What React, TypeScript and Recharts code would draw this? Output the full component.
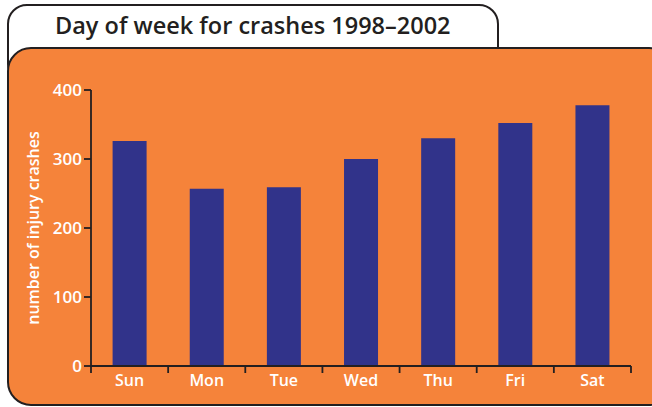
import { BarChart, Bar, XAxis, YAxis, Label } from "recharts";

const DAYS = ["Sun", "Mon", "Tue", "Wed", "Thu", "Fri", "Sat"];
const CRASHES = [326, 257, 259, 300, 330, 352, 378];
const Y_TICKS = [0, 100, 200, 300, 400];

const ORANGE = "#f5833a";
const NAVY = "#31338a";
const INK = "#231f20";
const FONT = '"Open Sans", sans-serif';

const data = DAYS.map((day, i) => ({ day, crashes: CRASHES[i] }));

// day label centred in its band, with tick marks on the band edges
function DayTick(props: any) {
  const { x, y, width, visibleTicksCount, index, payload } = props;
  const half = width / visibleTicksCount / 2;
  const last = index === visibleTicksCount - 1;
  return (
    <g>
      <line x1={x - half} x2={x - half} y1={y} y2={y + 7} stroke={INK} strokeWidth={1.8} />
      {last && (
        <line x1={x + half} x2={x + half} y1={y} y2={y + 7} stroke={INK} strokeWidth={1.8} />
      )}
      <text
        x={x}
        y={y + 20}
        textAnchor="middle"
        fill="#fff"
        fontSize={16}
        fontWeight={600}
        fontFamily={FONT}
      >
        {payload.value}
      </text>
    </g>
  );
}

export default function App() {
  return (
    <div
      style={{
        position: "absolute",
        left: 0,
        top: 0,
        width: 652,
        height: 407,
        overflow: "hidden",
        background: "#fff",
        fontFamily: FONT,
      }}
    >
      {/* title tab */}
      <div
        style={{
          position: "absolute",
          left: 7,
          top: 4,
          width: 492,
          height: 80,
          boxSizing: "border-box",
          border: `2px solid ${INK}`,
          borderRadius: 20,
          background: "#fff",
        }}
      />
      <div
        style={{
          position: "absolute",
          left: 55,
          top: 13,
          fontSize: 23.5,
          lineHeight: "24px",
          fontWeight: 600,
          color: INK,
          whiteSpace: "nowrap",
        }}
      >
        Day of week for crashes 1998–2002
      </div>
      {/* orange panel */}
      <div
        style={{
          position: "absolute",
          left: 7,
          top: 47,
          width: 666,
          height: 359,
          boxSizing: "border-box",
          border: `2.5px solid ${INK}`,
          borderRadius: 24,
          background: ORANGE,
        }}
      />
      <div style={{ position: "absolute", left: 0, top: 0 }}>
        <BarChart
          width={652}
          height={407}
          data={data}
          margin={{ top: 90, right: 21, left: 0, bottom: 0 }}
          barCategoryGap="28%"
        >
          <XAxis
            dataKey="day"
            height={41}
            axisLine={{ stroke: INK, strokeWidth: 1.8 }}
            tickLine={false}
            tickSize={0}
            tickMargin={0}
            interval={0}
            tick={<DayTick />}
          />
          <YAxis
            width={91}
            domain={[0, 400]}
            ticks={Y_TICKS}
            interval={0}
            tickSize={7}
            tickMargin={2}
            axisLine={{ stroke: INK, strokeWidth: 1.8 }}
            tickLine={{ stroke: INK, strokeWidth: 1.8 }}
            tick={{ fill: "#fff", fontSize: 17, fontWeight: 600, fontFamily: FONT }}
          >
            <Label
              value="number of injury crashes"
              angle={-90}
              position="center"
              dx={-12}
              style={{ fill: "#fff", fontSize: 16, fontWeight: 600, fontFamily: FONT }}
            />
          </YAxis>
          <Bar dataKey="crashes" fill={NAVY} isAnimationActive={false} />
        </BarChart>
      </div>
    </div>
  );
}
